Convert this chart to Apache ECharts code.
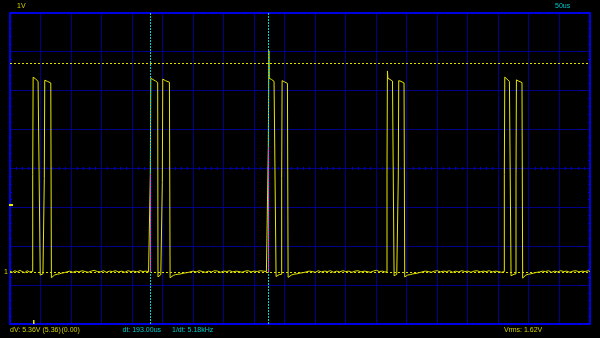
<!DOCTYPE html>
<html><head><meta charset="utf-8">
<script src="https://cdn.jsdelivr.net/npm/echarts@6/dist/echarts.min.js"></script>
<style>html,body{margin:0;padding:0;background:#000;}#c{width:600px;height:338px;}</style>
</head><body><div id="c"></div>
<script>
// ---- data: time in microseconds, voltage in volts ----
const base0 = [[0,0.02],[4,-0.01],[8,0.03],[12,0.0],[16,0.04],[20,0.01],[24,-0.02],[28,0.03],[32,0.0],[35,0.02]];
const burst1 = [[37.2,0.01],[37.2,2.5],[37.9,2.5],[37.9,5.01],[39.5,4.99],[41.5,4.97],[43.5,4.93],[46,4.90],[48.6,4.88],[49.0,4.86],[49.5,-0.08],[51.5,-0.06],[54,-0.05],[56.2,-0.04],[56.2,2.4],[56.9,2.4],[56.9,4.93],[59,4.93],[61.5,4.90],[64,4.88],[66.8,4.86],[67.2,4.84],[67.8,-0.15],[70,-0.12],[73,-0.08],[77,-0.06],[81,-0.05],[85,-0.03],[89,-0.02],[93,0.0]];
const base1 = [[98,0.02],[103,-0.01],[108,0.02],[113,0.0],[118,0.03],[123,0.01],[128,-0.01],[133,0.02],[138,0.04],[143,0.01],[148,0.0],[153,0.03],[158,-0.01],[163,0.02],[168,0.01],[173,0.03],[178,0.0],[183,0.02],[188,-0.01],[193,0.03],[198,0.01],[203,0.02],[208,0.0],[213,0.03],[218,0.01],[223,0.02],[227,0.0]];
const burst2 = [[229.8,0.01],[229.8,2.5],[230.6,2.5],[230.6,4.98],[232,4.97],[234,4.95],[236,4.93],[238.5,4.91],[241.4,4.89],[241.9,4.87],[242.4,-0.13],[244.5,-0.09],[247,-0.07],[249.5,-0.06],[249.5,2.3],[250.2,2.3],[250.2,4.96],[252,4.93],[254.5,4.92],[257.5,4.90],[261.1,4.88],[261.6,4.86],[262.2,-0.15],[264.5,-0.10],[267.5,-0.09],[271,-0.07],[275,-0.06],[280,-0.05],[285,-0.03],[290,-0.02],[295,0.0]];
const base2 = [[300,0.02],[305,0.0],[310,0.03],[315,0.01],[320,-0.01],[325,0.02],[330,0.0],[335,0.03],[340,0.02],[345,-0.01],[350,0.02],[355,0.01],[360,0.03],[365,0.0],[370,0.02],[375,0.01],[380,-0.01],[385,0.02],[390,0.03],[395,0.0],[400,0.02],[405,0.01],[410,0.03],[415,0.02],[420,0.01]];
const burst3 = [[423.1,0.02],[423.1,3.2],[424.0,3.2],[424.0,5.69],[424.6,4.98],[426.5,4.97],[428.5,4.95],[430.5,4.92],[432.5,4.90],[434.8,4.88],[435.2,4.86],[435.8,-0.12],[438,-0.08],[441,-0.07],[445.0,-0.06],[445.0,2.4],[445.7,2.4],[445.7,4.92],[447.5,4.91],[449.5,4.89],[451.5,4.87],[454.4,4.85],[454.9,4.83],[455.5,-0.14],[458,-0.10],[461,-0.08],[465,-0.06],[470,-0.05],[475,-0.03],[480,-0.02],[485,0.0]];
const base3 = [[490,0.02],[495,0.01],[500,-0.01],[505,0.03],[510,0.0],[515,0.02],[520,0.01],[525,0.03],[530,-0.01],[535,0.02],[540,0.0],[545,0.03],[550,0.01],[555,0.02],[560,-0.01],[565,0.02],[570,0.03],[575,0.0],[580,0.02],[585,0.01],[590,-0.01],[595,0.02],[600,0.04],[605,0.01],[610,0.02],[614,0.0]];
const burst4 = [[617.5,0.0],[617.5,2.7],[618.2,2.7],[618.2,5.17],[619,4.98],[620.5,4.97],[622.5,4.95],[624.5,4.93],[626.5,4.91],[628.1,4.89],[628.5,4.87],[629.1,-0.10],[631,-0.08],[633.5,-0.06],[636.0,-0.05],[636.0,2.44],[636.7,2.44],[636.7,4.92],[638.5,4.92],[640.5,4.90],[642.5,4.88],[645.4,4.86],[645.9,4.84],[646.5,-0.13],[648.5,-0.11],[651.5,-0.08],[655.5,-0.07],[660,-0.05],[665,-0.04],[670,-0.02],[675,0.0]];
const base4 = [[680,0.02],[685,0.01],[690,-0.01],[695,0.02],[700,0.03],[705,0.0],[710,0.02],[715,0.01],[720,0.03],[725,-0.01],[730,0.02],[735,0.0],[740,0.03],[745,0.01],[750,0.02],[755,-0.01],[760,0.02],[765,0.03],[770,0.0],[775,0.02],[780,0.01],[785,0.03],[790,0.0],[795,0.02],[800,0.01],[805,-0.01]];
const burst5 = [[809.7,0.01],[809.7,2.5],[810.4,2.5],[810.4,5.01],[812,4.99],[814,4.96],[816,4.93],[818,4.90],[819.7,4.88],[820.1,4.86],[820.7,-0.10],[822.5,-0.08],[825.5,-0.06],[828.8,-0.05],[828.8,2.42],[829.5,2.42],[829.5,4.94],[831,4.93],[833,4.91],[835.5,4.89],[838.6,4.87],[839.1,4.85],[839.7,-0.16],[842,-0.11],[845,-0.08],[849,-0.06],[853,-0.05],[858,-0.03],[863,-0.01],[868,0.0]];
const base5 = [[872,0.02],[877,0.01],[882,0.03],[887,-0.01],[892,0.02],[897,0.0],[902,0.03],[907,0.01],[912,0.02],[917,-0.01],[922,0.02],[927,0.03],[932,0.0],[937,0.02],[942,0.01],[947,0.03],[950,0.01]];

const cursorTimes = [229.8, 423.1];       // us
const cursorVolts = [0, 5.36];            // V
const edgeOverlap = [[229.8, 0, 2.5], [423.1, 0, 3.2]]; // [t, v0, v1]
const triggerLevel = 1.70;
const triggerTime = 38.8;
const groundLevel = 0;

const timeMin = 0, timeMax = 950, timeDiv = 50;
const voltMin = -1.34, voltMax = 6.66, voltDiv = 1;

const topTexts = [
  {text: '1V', x: 17, y: 6, color: '#d2d200'},
  {text: '50us', x: 555, y: 6, color: '#00c8c8'}
];
const bottomTexts = [
  {text: 'dV: 5.36V', x: 10, y: 330.5, color: '#d2d200'},
  {text: '(5.36)', x: 42.5, y: 330.5, color: '#d2d200'},
  {text: '(0.00)', x: 61.5, y: 330.5, color: '#d2d200'},
  {text: 'dt: 193.00us', x: 122.5, y: 330.5, color: '#00c8c8'},
  {text: '1/dt: 5.18kHz', x: 172, y: 330.5, color: '#00c8c8'},
  {text: 'Vrms: 1.62V', x: 504, y: 330.5, color: '#d2d200'}
];

const trace = [].concat(base0, burst1, base1, burst2, base2, burst3, base3, burst4, base4, burst5, base5);

const GRID = '#000088', BORDER = '#0000e6', YEL = '#e6e600', CYAN = '#00d2d2';
const FONT = '7px "Liberation Sans", Arial, sans-serif';

const chart = echarts.init(document.getElementById('c'), null, {renderer: 'canvas'});
const hidden = {show: false};
const option = {
  backgroundColor: '#000',
  animation: false,
  grid: {left: 10, right: 10, top: 13, bottom: 14, show: true, borderColor: BORDER, borderWidth: 2, backgroundColor: 'transparent', z: 1},
  xAxis: [
    {type: 'value', min: timeMin, max: timeMax, interval: timeDiv, position: 'bottom',
     axisLine: {show: false, onZero: false}, axisTick: hidden, axisLabel: hidden, splitLine: hidden},
    {type: 'value', min: timeMin, max: timeMax, interval: timeDiv, position: 'bottom', offset: -157,
     axisLine: {show: false, onZero: false}, axisTick: {show: false, inside: false}, axisLabel: hidden,
     minorTick: {show: true, splitNumber: 5, length: 3, lineStyle: {color: '#0000b4', width: 1}},
     splitLine: hidden}
  ],
  yAxis: [
    {type: 'value', min: voltMin, max: voltMax, interval: voltDiv, position: 'left',
     axisLine: {show: false, onZero: false}, axisTick: {show: false, inside: true}, axisLabel: hidden,
     minorTick: {show: true, splitNumber: 5, length: 2, lineStyle: {color: '#0000c8', width: 1}},
     splitLine: hidden},
    {type: 'value', min: voltMin, max: voltMax, interval: voltDiv, position: 'right',
     axisLine: {show: false, onZero: false}, axisTick: {show: false, inside: true}, axisLabel: hidden,
     minorTick: {show: true, splitNumber: 5, length: 2, lineStyle: {color: '#0000c8', width: 1}},
     splitLine: hidden}
  ],
  series: [
    {type: 'line', data: [], z: 1, silent: true,
     markLine: {silent: true, symbol: 'none', animation: false, label: hidden,
       data: cursorVolts.map(v => ({yAxis: v, lineStyle: {color: '#dede00', width: 1, type: [2, 2]}}))}},
    {type: 'line', name: 'CH1', data: trace, z: 2, showSymbol: false, silent: true,
     lineStyle: {color: YEL, width: 1}},
    {type: 'line', data: [], z: 3, silent: true,
     markLine: {silent: true, symbol: 'none', animation: false, label: hidden,
       data: cursorTimes.map(t => ({xAxis: t, lineStyle: {color: CYAN, width: 1, type: [2, 1]}}))}},
    {type: 'line', data: [], z: 4, silent: true,
     markLine: {silent: true, symbol: 'none', animation: false, label: hidden,
       data: edgeOverlap.map(e => [
         {coord: [e[0], e[1]], lineStyle: {color: '#ff20ff', width: 1, type: [2, 1]}},
         {coord: [e[0], e[2]]}
       ])}}
  ]
};
chart.setOption(option);

// Crisp graticule lines snapped to whole pixels, positioned from the axis scales
const els = [];
const pMin = chart.convertToPixel({gridIndex: 0}, [timeMin, voltMin]);
const pMax = chart.convertToPixel({gridIndex: 0}, [timeMax, voltMax]);
for (let t = timeMin + timeDiv; t < timeMax - 1e-6; t += timeDiv) {
  const x = Math.floor(chart.convertToPixel({xAxisIndex: 0}, t)) + 0.5;
  els.push({type: 'line', silent: true, z: -1, shape: {x1: x, y1: pMax[1], x2: x, y2: pMin[1]}, style: {stroke: GRID, lineWidth: 1}});
}
for (let v = voltMin + voltDiv; v < voltMax - 1e-6; v += voltDiv) {
  const y = Math.floor(chart.convertToPixel({yAxisIndex: 0}, v)) + 0.5;
  els.push({type: 'line', silent: true, z: -1, shape: {x1: pMin[0], y1: y, x2: pMax[0], y2: y}, style: {stroke: GRID, lineWidth: 1}});
}

// Decorations placed through the chart's own coordinate system
const pTrigLvl = chart.convertToPixel({gridIndex: 0}, [timeMin, triggerLevel]);
const pTrigT = chart.convertToPixel({gridIndex: 0}, [triggerTime, voltMin]);
const pGnd = chart.convertToPixel({gridIndex: 0}, [timeMin, groundLevel]);
topTexts.concat(bottomTexts).forEach(o => els.push({
  type: 'text', silent: true, z: 20,
  style: {text: o.text, x: o.x, y: o.y, fill: o.color, font: FONT, verticalAlign: 'middle', align: 'left'}
}));
els.push({type: 'text', silent: true, z: 20,
  style: {text: '1', x: 4, y: pGnd[1], fill: '#d2d200', font: FONT, verticalAlign: 'middle'}});
els.push({type: 'rect', silent: true, z: 20, shape: {x: pTrigLvl[0] - 1, y: Math.floor(pTrigLvl[1]) - 1, width: 4, height: 2}, style: {fill: '#e8e800'}});
els.push({type: 'rect', silent: true, z: 20, shape: {x: Math.floor(pTrigT[0]), y: pTrigT[1] - 4, width: 1.5, height: 4}, style: {fill: '#e8e800'}});
chart.setOption({graphic: els});
</script>
</body></html>
